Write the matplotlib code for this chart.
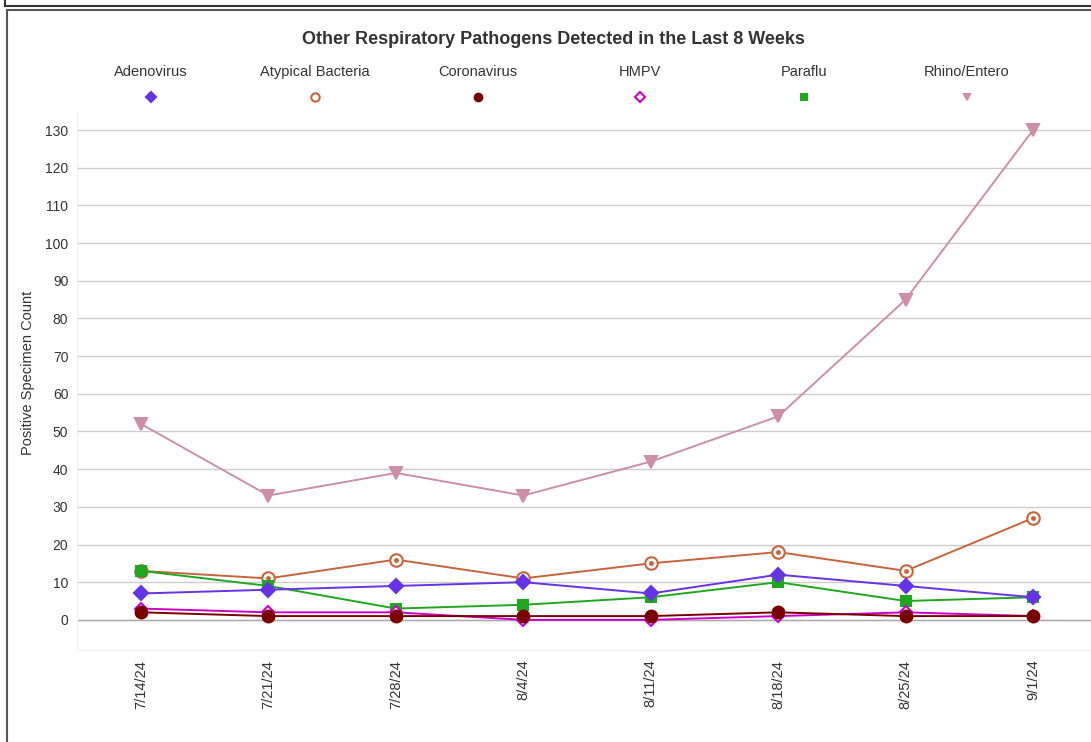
import matplotlib
matplotlib.use("Agg")
import matplotlib.pyplot as plt
from matplotlib.lines import Line2D

plt.rcParams['font.family'] = ['Liberation Sans', 'DejaVu Sans']

weeks = ["7/14/24", "7/21/24", "7/28/24", "8/4/24", "8/11/24", "8/18/24", "8/25/24", "9/1/24"]
adenovirus = [7, 8, 9, 10, 7, 12, 9, 6]
atypical = [13, 11, 16, 11, 15, 18, 13, 27]
coronavirus = [2, 1, 1, 1, 1, 2, 1, 1]
hmpv = [3, 2, 2, 0, 0, 1, 2, 1]
paraflu = [13, 9, 3, 4, 6, 10, 5, 6]
rhino = [52, 33, 39, 33, 42, 54, 85, 130]

names = ["Adenovirus", "Atypical Bacteria", "Coronavirus", "HMPV", "Paraflu", "Rhino/Entero"]
colors = ["#6633E6", "#C8643C", "#7A0000", "#CC00CC", "#1FA81F", "#CC8FA8"]

W, H = 1091, 742
fig = plt.figure(figsize=(W / 100, H / 100), dpi=100)

def fx(px):
    return px / W

def fy(py):
    return 1 - py / H

ax = fig.add_axes([fx(77.3), fy(650), (1096.7 - 77.3) / W, (650 - 112) / H])
x = list(range(len(weeks)))

styles = {
    "Adenovirus": dict(marker="D", ms=7, mfc=colors[0], lms=5),
    "Atypical Bacteria": dict(marker="o", ms=9, mfc="white", lms=6),
    "Coronavirus": dict(marker="o", ms=8.5, mfc=colors[2], lms=5.5),
    "HMPV": dict(marker="D", ms=6.5, mfc="white", lms=5),
    "Paraflu": dict(marker="s", ms=7.5, mfc=colors[4], lms=5),
    "Rhino/Entero": dict(marker="v", ms=8, mfc=colors[5], lms=4.5),
}
data = {"Adenovirus": adenovirus, "Atypical Bacteria": atypical, "Coronavirus": coronavirus,
        "HMPV": hmpv, "Paraflu": paraflu, "Rhino/Entero": rhino}
order = ["Rhino/Entero", "Atypical Bacteria", "Paraflu", "Adenovirus", "HMPV", "Coronavirus"]
z = 3
for n in order:
    c = colors[names.index(n)]
    st = styles[n]
    ax.plot(x, data[n], color=c, lw=1.4, marker=st["marker"], ms=st["ms"],
            mfc=st["mfc"], mec=c, mew=1.5, zorder=z)
    if n == "Atypical Bacteria":
        ax.plot(x, data[n], ls="none", marker="o", ms=2.5, color=c, zorder=z + 0.5)
    z += 1

ax.set_xlim(-0.5, len(weeks) - 0.5)
ax.set_ylim(-8, 134.8)
ax.set_yticks(range(0, 131, 10))
ax.set_xticks(x)
ax.set_xticklabels(weeks, rotation=90, fontsize=10.5, color="#333333")
ax.tick_params(axis="y", labelsize=10, labelcolor="#333333", length=0, pad=6.5)
ax.tick_params(axis="x", length=0, pad=7)
ax.grid(axis="y", color="#cccccc", lw=1)
ax.axhline(0, color="#aaaaaa", lw=1, zorder=1)
for s in ["top", "right"]:
    ax.spines[s].set_visible(False)
for s in ["left", "bottom"]:
    ax.spines[s].set_color("#f0f0f0")
ax.set_axisbelow(True)

fig.text(fx(28), fy(373), "Positive Specimen Count", rotation=90, ha="center", va="center",
         fontsize=10.5, color="#333333")

fig.text(fx(553), fy(40), "Other Respiratory Pathogens Detected in the Last 8 Weeks",
         ha="center", va="center", fontsize=13, fontweight="bold", color="#333333")

leg_x = [151, 315, 478, 640, 804, 967]
for n, lx in zip(names, leg_x):
    c = colors[names.index(n)]
    st = styles[n]
    fig.text(fx(lx), fy(72), n, ha="center", va="center", fontsize=10.5, color="#333333")
    fig.add_artist(Line2D([fx(lx)], [fy(97)], marker=st["marker"], ms=st["lms"],
                          mfc=st["mfc"], mec=c, mew=1.5, color=c, transform=fig.transFigure))

# frame borders
fig.add_artist(Line2D([fx(5), fx(W)], [fy(5.5), fy(5.5)], color="#333333", lw=1.5,
                      transform=fig.transFigure))
fig.add_artist(Line2D([fx(5), fx(5)], [fy(0), fy(5.5)], color="#333333", lw=1.5,
                      transform=fig.transFigure))
fig.add_artist(Line2D([fx(7), fx(W)], [fy(10), fy(10)], color="#555555", lw=1.5,
                      transform=fig.transFigure))
fig.add_artist(Line2D([fx(7), fx(7)], [fy(10), fy(H)], color="#555555", lw=1.5,
                      transform=fig.transFigure))

fig.savefig("out.png", dpi=100)
